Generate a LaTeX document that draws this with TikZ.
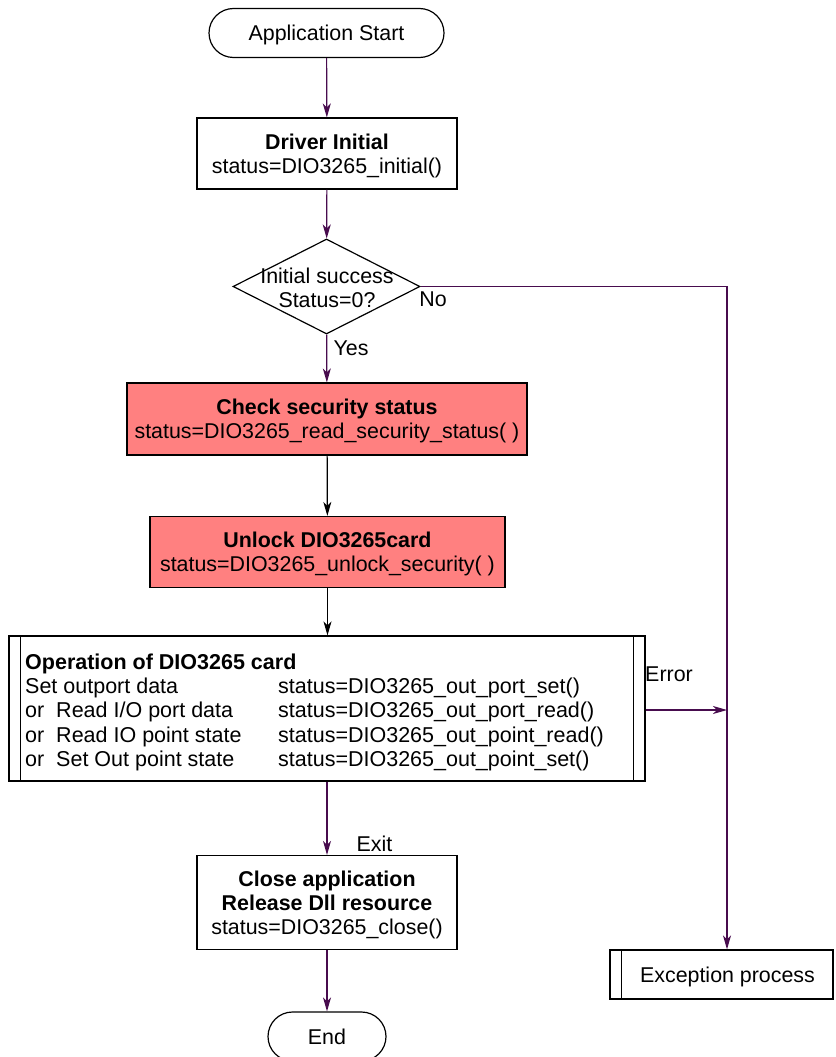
\documentclass[tikz,border=0pt]{standalone}
\usepackage{fontspec}
\setmainfont{Liberation Sans}
\usetikzlibrary{shapes.geometric,arrows.meta}
\definecolor{flow}{RGB}{72,12,78}
\definecolor{salmonfill}{RGB}{255,128,128}
\newcommand\myfs{\fontsize{21.4}{24}\selectfont}
\begin{document}
\begin{tikzpicture}[x=1pt,y=-1pt,
  every node/.style={font=\myfs},
  box/.style={draw,line width=1.2pt,rectangle,inner sep=0pt,align=center,text depth=0pt},
  pill/.style={box,rounded corners=24.5pt,minimum height=49pt},
  hot/.style={box,fill=salmonfill},
  lbl/.style={inner sep=0pt},
  flowarrow/.style={draw=flow,line width=1.2pt,-{Stealth[length=14pt,width=8pt,inset=4pt]}},
  blackarrow/.style={draw=black,line width=1.2pt,-{Stealth[length=14pt,width=8pt,inset=4pt]}}]
\useasboundingbox (0,0) rectangle (835,1057);
\node[pill,minimum width=235pt] (start) at (326.5,33) {Application Start};
\node[box,minimum width=260pt,minimum height=71pt] (drv) at (327,153.5) {\textbf{Driver Initial}\\status=DIO3265\_initial()};
\node[draw,line width=1.2pt,diamond,inner sep=0pt,minimum width=187pt,minimum height=95pt] (dia) at (326.5,286.5) {};
\node[lbl,align=center,text depth=0pt] (diatext) at (327,288) {Initial success\\Status=0?};
\node[hot,minimum width=400pt,minimum height=72pt] (chk) at (327,419) {\textbf{Check security status}\\status=DIO3265\_read\_security\_status( )};
\node[hot,minimum width=355pt,minimum height=71pt] (unl) at (327.5,552) {\textbf{Unlock DIO3265card}\\status=DIO3265\_unlock\_security( )};
\node[box,minimum width=636pt,minimum height=145pt] (op) at (327,708.5) {};
\draw[line width=1.2pt] ([xshift=12pt]op.north west) -- ([xshift=12pt]op.south west);
\draw[line width=1.2pt] ([xshift=-12pt]op.north east) -- ([xshift=-12pt]op.south east);
\node[lbl,anchor=west,align=left] (optext) at (25,713) {\fontsize{21.5}{24.25}\selectfont
\begin{tabular}{@{}p{253pt}@{}l@{}}
\multicolumn{2}{@{}l}{\textbf{Operation of DIO3265 card}}\\
Set outport data & status=DIO3265\_out\_port\_set()\\
or\ \ Read I/O port data & status=DIO3265\_out\_port\_read()\\
or\ \ Read IO point state & status=DIO3265\_out\_point\_read()\\
or\ \ Set Out point state & status=DIO3265\_out\_point\_set()
\end{tabular}};
\node[box,minimum width=260pt,minimum height=94pt] (cls) at (327,902.5) {\textbf{Close application}\\\textbf{Release Dll resource}\\status=DIO3265\_close()};
\node[pill,minimum width=118pt] (end) at (327,1036.5) {End};
\node[box,minimum width=223pt,minimum height=49pt] (exc) at (721.5,974.5) {\hspace*{12pt}Exception process};
\draw[line width=1.2pt] ([xshift=12pt]exc.north west) -- ([xshift=12pt]exc.south west);
\coordinate (errj) at (727,710);
% connectors
\draw[flowarrow] (start) -- (drv);
\draw[flowarrow] (drv) -- (dia);
\draw[flowarrow] (dia) -- (chk);
\draw[blackarrow] (chk) -- (unl);
\draw[blackarrow] (unl) -- (op.north -| unl);
\draw[flowarrow] (op.south -| cls) -- (cls);
\draw[flowarrow] (cls) -- (end);
\draw[flowarrow] (dia.east) -| ([xshift=5.5pt]exc.north);
\draw[flowarrow] (op.east |- errj) -- (errj);
% labels
\node[lbl] (yes) at (351,348) {Yes};
\node[lbl] (no) at (433,299.5) {No};
\node[lbl] (exit) at (374.5,843.5) {Exit};
\node[lbl] (err) at (669,674.5) {Error};
\end{tikzpicture}
\end{document}
